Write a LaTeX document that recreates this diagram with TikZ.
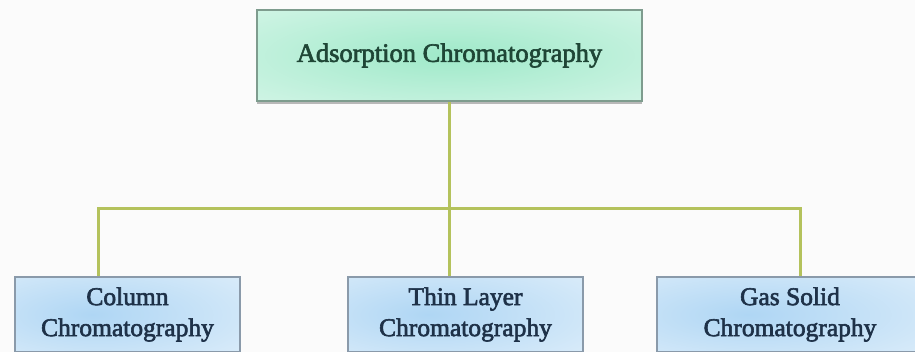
\documentclass[tikz,border=0pt]{standalone}
\usepackage{fontspec}
\setmainfont{Liberation Serif}
\newfontfamily\boxfont{Liberation Serif}[BoldFont={Liberation Serif}, BoldFeatures={FakeBold=2.4}]
\usepackage{xcolor}
\usetikzlibrary{shadows}

\definecolor{mintin}{HTML}{9FE9C9}
\definecolor{mintout}{HTML}{E0F8EE}
\definecolor{mintline}{HTML}{7E9C8E}
\definecolor{mintText}{HTML}{1F4636}
\definecolor{bluein}{HTML}{AFD6F4}
\definecolor{blueout}{HTML}{E4F1FB}
\definecolor{blueline}{HTML}{8A9AAA}
\definecolor{blueText}{HTML}{1E3148}
\definecolor{olive}{HTML}{B4C25C}
\definecolor{paper}{HTML}{FBFBFB}

\pgfdeclareradialshading{mintglow}{\pgfpoint{0bp}{0bp}}%
  {color(0bp)=(mintin); color(48bp)=(mintout); color(100bp)=(mintout)}
\pgfdeclareradialshading{blueglow}{\pgfpoint{-8bp}{0bp}}%
  {color(0bp)=(bluein); color(50bp)=(blueout); color(100bp)=(blueout)}

\tikzset{
  topbox/.style={draw=mintline, line width=1.2pt, shading=mintglow,
    minimum width=385pt, minimum height=91pt, text=mintText, font=\boxfont\bfseries\fontsize{26.5}{30}\selectfont,
    drop shadow={shadow xshift=0pt, shadow yshift=-3pt, fill=black!45, opacity=0.6}},
  subbox/.style={draw=blueline, line width=1.2pt, shading=blueglow,
    minimum height=75pt, text=blueText, align=center, font=\boxfont\bfseries\fontsize{25.5}{31}\selectfont,
    drop shadow={shadow xshift=0pt, shadow yshift=-2pt, fill=black!25, opacity=0.5}},
  link/.style={draw=olive, line width=3pt}
}

\begin{document}
\begin{tikzpicture}[x=1pt,y=-1pt]
  \fill[paper] (0,0) rectangle (915,352);
  \clip (0,0) rectangle (915,352);

  % main class
  \node[topbox] (adsorb) at (449.5,55.5) {Adsorption Chromatography};

  % kinds
  \node[subbox, minimum width=225pt] (column) at (127.5,314.5) {Column\\Chromatography};
  \node[subbox, minimum width=235pt] (thin) at (465.5,314.5) {Thin Layer\\Chromatography};
  \node[subbox, minimum width=266pt] (gas) at (790,314.5) {Gas Solid\\Chromatography};

  \coordinate (bus) at (449.5,209);

  \draw[link] (adsorb.south) -- (adsorb.south |- thin.north);
  \draw[link] ([xshift=-29pt]column.north) |- (bus) -| ([xshift=10pt]gas.north);
\end{tikzpicture}
\end{document}
